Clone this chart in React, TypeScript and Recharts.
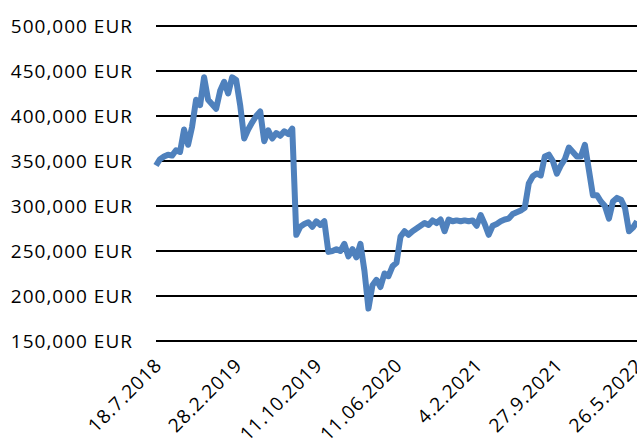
import React from 'react';
import { LineChart, Line, XAxis, YAxis, CartesianGrid } from 'recharts';

const tickLabels = ['18.7.2018', '28.2.2019', '11.10.2019', '11.06.2020', '4.2.2021', '27.9.2021', '26.5.2022'];
const tickIndex = [0, 20, 40, 60, 80, 100, 120];
const yTicks = [150000, 200000, 250000, 300000, 350000, 400000, 450000, 500000];

const values = [
  345000, 352000, 355000, 357000, 356000, 362000, 360000, 385000, 368000, 388000,
  418000, 412000, 443000, 418000, 413000, 408000, 428000, 438000, 425000, 443000,
  440000, 412000, 375000, 385000, 393000, 400000, 405000, 372000, 384000, 375000,
  381000, 378000, 383000, 380000, 386000, 268000, 277000, 280000, 282000, 277000,
  283000, 279000, 283000, 249000, 250000, 252000, 250000, 258000, 244000, 252000,
  243000, 258000, 228000, 186000, 212000, 218000, 210000, 225000, 222000, 233000,
  237000, 266000, 272000, 268000, 272000, 275000, 278000, 281000, 279000, 284000,
  281000, 285000, 272000, 285000, 283000, 284000, 283000, 284000, 283000, 284000,
  278000, 290000, 280000, 268000, 278000, 280000, 283000, 285000, 286000, 291000,
  293000, 295000, 298000, 325000, 333000, 336000, 334000, 355000, 357000, 350000,
  336000, 345000, 352000, 365000, 360000, 355000, 355000, 368000, 340000, 312000,
  312000, 305000, 300000, 286000, 305000, 309000, 307000, 298000, 272000, 276000,
  283000,
];

const data = values.map((v, i) => ({ i, v }));

const FONT = '"Open Sans", sans-serif';

const fmtY = (v: number) => v.toLocaleString('en-US') + ' EUR';

const YTick = (props: any) => {
  const { y, payload } = props;
  return (
    <text x={133} y={y} dy={7} textAnchor="end" fontFamily={FONT} fontSize={19} letterSpacing={1} fill="#000">
      {fmtY(payload.value)}
    </text>
  );
};

const XTick = (props: any) => {
  const { x, y, payload } = props;
  const idx = tickIndex.indexOf(payload.value);
  return (
    <g transform={`translate(${x + 3},${y + 13})`}>
      <text x={0} y={0} dy={6} textAnchor="end" transform="rotate(-45)" fontFamily={FONT} fontSize={19} letterSpacing={1} fill="#000">
        {tickLabels[idx]}
      </text>
    </g>
  );
};

export default function App() {
  return (
    <div style={{ position: 'absolute', left: 0, top: 0, width: 637, height: 445, background: '#fff' }}>
      <LineChart width={637} height={445} data={data} margin={{ top: 26, right: 0, left: 0, bottom: 0 }}>
        <CartesianGrid vertical={false} stroke="#000" strokeWidth={2} />
        <XAxis
          dataKey="i"
          type="number"
          domain={[0, 120]}
          ticks={tickIndex}
          axisLine={false}
          tickLine={false}
          height={104}
          interval={0}
          tick={<XTick />}
        />
        <YAxis
          domain={[150000, 500000]}
          ticks={yTicks}
          axisLine={false}
          tickLine={false}
          width={156}
          interval={0}
          tick={<YTick />}
        />
        <Line
          type="linear"
          dataKey="v"
          stroke="#4f81bd"
          strokeWidth={6}
          dot={false}
          strokeLinejoin="round"
          isAnimationActive={false}
        />
      </LineChart>
    </div>
  );
}
